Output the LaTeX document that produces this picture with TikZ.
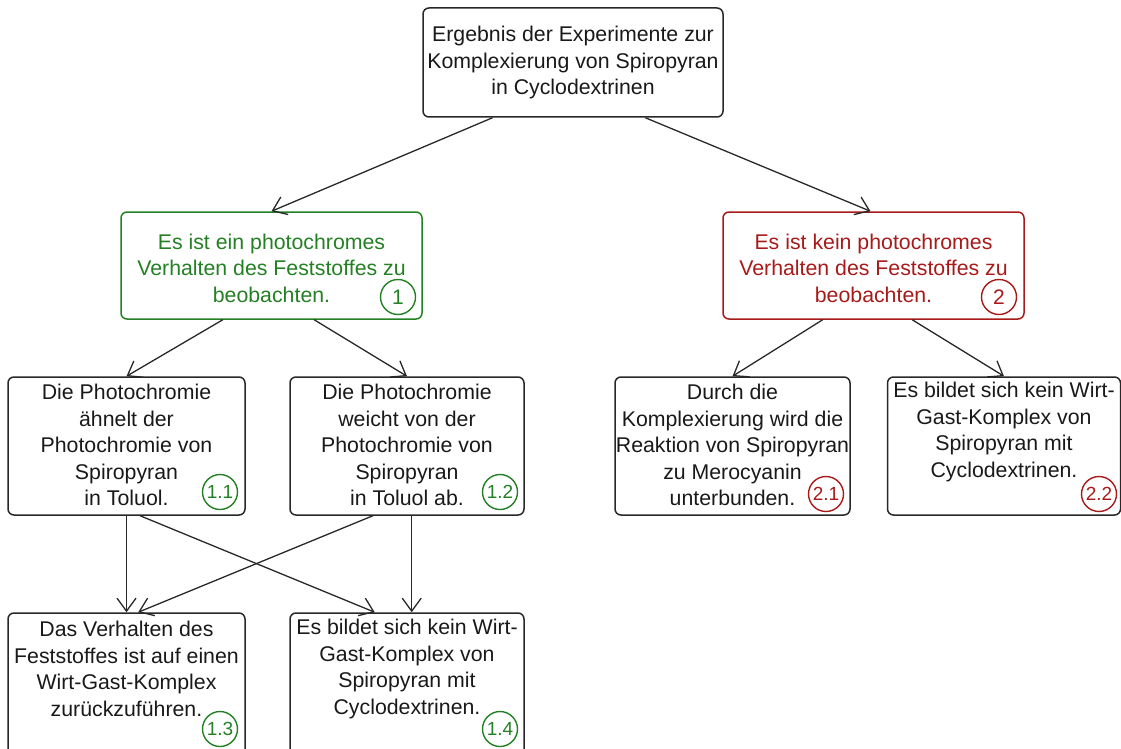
\documentclass[tikz,border=0pt]{standalone}
\usepackage{fontspec}
\setmainfont{Liberation Sans}
\usetikzlibrary{arrows.meta,calc}
\definecolor{okgreen}{RGB}{36,128,36}
\definecolor{nored}{RGB}{168,26,26}
\definecolor{ink}{RGB}{40,40,40}
\begin{document}
\begin{tikzpicture}[x=1pt,y=-1pt,
  box/.style={draw=ink, line width=1.5pt, rounded corners=6pt, inner sep=0pt},
  txt/.style={align=center, inner sep=0pt, text=black!90, font=\fontsize{21.3}{26.5}\selectfont},
  tag/.style={circle, draw, line width=1.4pt, minimum size=35pt, inner sep=0pt, font=\fontsize{19}{19}\selectfont},
  arr/.style={draw=ink, line width=1.3pt, -{Straight Barb[length=13pt,width=19pt,line width=1.3pt]}}]
\useasboundingbox (0,0) rectangle (1121,749);

% top question
\node[box, minimum width=300pt, minimum height=109pt] (top) at (573,62.5) {};
\node[txt] (toptext) at (573,62.5) {Ergebnis der Experimente zur\\Komplexierung von Spiropyran\\in Cyclodextrinen};

% first level
\node[box, draw=okgreen, minimum width=301pt, minimum height=107pt] (yes) at (271.5,265.5) {};
\node[txt, text=okgreen] (yestext) at (271.5,268) {Es ist ein photochromes\\Verhalten des Feststoffes zu\\beobachten.};
\node[tag, draw=okgreen, text=okgreen, font=\fontsize{21}{21}\selectfont] (t1) at (398,297) {1};

\node[box, draw=nored, minimum width=301pt, minimum height=107pt] (no) at (873.5,265.5) {};
\node[txt, text=nored] (notext) at (873.5,268) {Es ist kein photochromes\\Verhalten des Feststoffes zu\\beobachten.};
\node[tag, draw=nored, text=nored, font=\fontsize{21}{21}\selectfont] (t2) at (999,297) {2};

% second level
\node[box, minimum width=237pt, minimum height=138pt] (n11) at (126.5,446) {};
\node[txt] (n11text) at (126.5,445) {Die Photochromie\\ähnelt der\\Photochromie von\\Spiropyran\\in Toluol.};
\node[tag, draw=okgreen, text=okgreen] (t11) at (220,492) {1.1};

\node[box, minimum width=234pt, minimum height=138pt] (n12) at (407,446) {};
\node[txt] (n12text) at (407,445) {Die Photochromie\\weicht von der\\Photochromie von\\Spiropyran\\in Toluol ab.};
\node[tag, draw=okgreen, text=okgreen] (t12) at (500,492) {1.2};

\node[box, minimum width=235pt, minimum height=138pt] (n21) at (732.5,446) {};
\node[txt] (n21text) at (732.5,445) {Durch die\\Komplexierung wird die\\Reaktion von Spiropyran\\zu Merocyanin\\unterbunden.};
\node[tag, draw=nored, text=nored] (t21) at (826,494) {2.1};

\node[box, minimum width=233pt, minimum height=138pt] (n22) at (1004,446) {};
\node[txt] (n22text) at (1004,432) {Es bildet sich kein Wirt-\\Gast-Komplex von\\Spiropyran mit\\Cyclodextrinen.};
\node[tag, draw=nored, text=nored] (t22) at (1099,494) {2.2};

% third level (boxes run past the lower edge)
\node[box, minimum width=237pt, minimum height=150pt] (n13) at (126.5,688) {};
\node[txt] (n13text) at (126.5,669) {Das Verhalten des\\Feststoffes ist auf einen\\Wirt-Gast-Komplex\\zurückzuführen.};
\node[tag, draw=okgreen, text=okgreen] (t13) at (220,729) {1.3};

\node[box, minimum width=234pt, minimum height=150pt] (n14) at (407,688) {};
\node[txt] (n14text) at (407,669) {Es bildet sich kein Wirt-\\Gast-Komplex von\\Spiropyran mit\\Cyclodextrinen.};
\node[tag, draw=okgreen, text=okgreen] (t14) at (500,729) {1.4};

% connectors
\draw[arr] ($(top.south west)!0.233!(top.south east)$) -- (yes.north);
\draw[arr] ($(top.south west)!0.74!(top.south east)$) -- ($(no.north west)!0.49!(no.north east)$);

\draw[arr] ($(yes.south west)!0.339!(yes.south east)$) -- (n11.north);
\draw[arr] ($(yes.south west)!0.641!(yes.south east)$) -- (n12.north);
\draw[arr] ($(no.south west)!0.332!(no.south east)$) -- (n21.north);
\draw[arr] ($(no.south west)!0.628!(no.south east)$) -- (n22.north);

\draw[arr] (n11.south) -- (n13.north);
\draw[arr] ($(n11.south west)!0.557!(n11.south east)$) -- ($(n14.north west)!0.363!(n14.north east)$);
\draw[arr] ($(n12.south west)!0.355!(n12.south east)$) -- ($(n13.north west)!0.549!(n13.north east)$);
\draw[arr] ($(n12.south west)!0.52!(n12.south east)$) -- ($(n14.north west)!0.52!(n14.north east)$);
\end{tikzpicture}
\end{document}
